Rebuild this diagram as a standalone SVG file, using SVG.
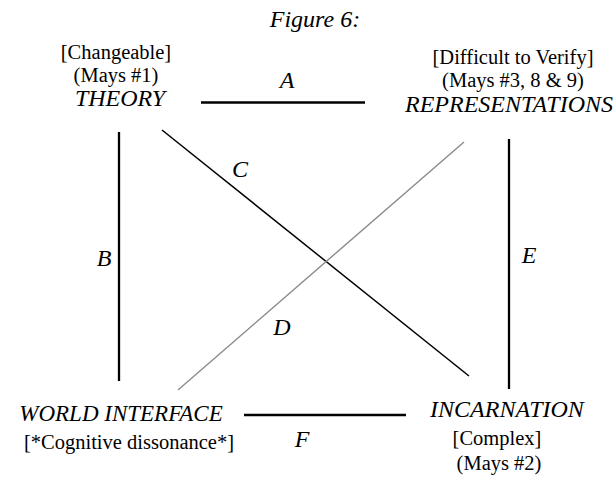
<svg xmlns="http://www.w3.org/2000/svg" width="616" height="481" viewBox="0 0 616 481">
<style>
text{font-family:"Liberation Serif","Times New Roman",serif;fill:#000}
.t{font-size:20.5px}
.i{font-style:italic;font-size:24px}
.l{font-style:italic;font-size:24px}
.k{stroke:#000;stroke-width:2.3;fill:none}
.c{stroke:#000;stroke-width:1.5;fill:none}
.g{stroke:#8a8a8a;stroke-width:1.4;fill:none}
</style>
<rect width="616" height="481" fill="#fff"/>
<text class="l" x="315" y="27" text-anchor="middle">Figure 6:</text>
<g id="theory">
<text class="t" x="116" y="59" text-anchor="middle">[Changeable]</text>
<text class="t" x="116" y="82" text-anchor="middle">(Mays #1)</text>
<text class="i" x="120" y="106" text-anchor="middle">THEORY</text>
</g>
<g id="representations">
<text class="t" x="513" y="64" text-anchor="middle">[Difficult to Verify]</text>
<text class="t" x="513" y="87" text-anchor="middle">(Mays #3, 8 &amp; 9)</text>
<text class="i" x="509" y="112" text-anchor="middle">REPRESENTATIONS</text>
</g>
<g id="world-interface">
<text class="i" x="121" y="421" text-anchor="middle" style="font-size:23px">WORLD INTERFACE</text>
<text class="t" x="129" y="449" text-anchor="middle">[*Cognitive dissonance*]</text>
</g>
<g id="incarnation">
<text class="i" x="507" y="417" text-anchor="middle">INCARNATION</text>
<text class="t" x="497" y="445" text-anchor="middle">[Complex]</text>
<text class="t" x="499" y="470" text-anchor="middle">(Mays #2)</text>
</g>
<g id="connectors">
<line class="k" x1="201" y1="102.5" x2="365" y2="102.5"/>
<line class="k" x1="119" y1="132" x2="119" y2="381"/>
<line class="k" x1="509" y1="139" x2="509" y2="389"/>
<line class="k" x1="244" y1="415" x2="406" y2="415"/>
<line class="c" x1="162" y1="130" x2="469" y2="376"/>
<line class="g" x1="178" y1="390" x2="464" y2="142"/>
<text class="l" x="287" y="88" text-anchor="middle">A</text>
<text class="l" x="104" y="266" text-anchor="middle">B</text>
<text class="l" x="240" y="177" text-anchor="middle">C</text>
<text class="l" x="282" y="335" text-anchor="middle">D</text>
<text class="l" x="529" y="263" text-anchor="middle">E</text>
<text class="l" x="302" y="447" text-anchor="middle">F</text>
</g>
</svg>
